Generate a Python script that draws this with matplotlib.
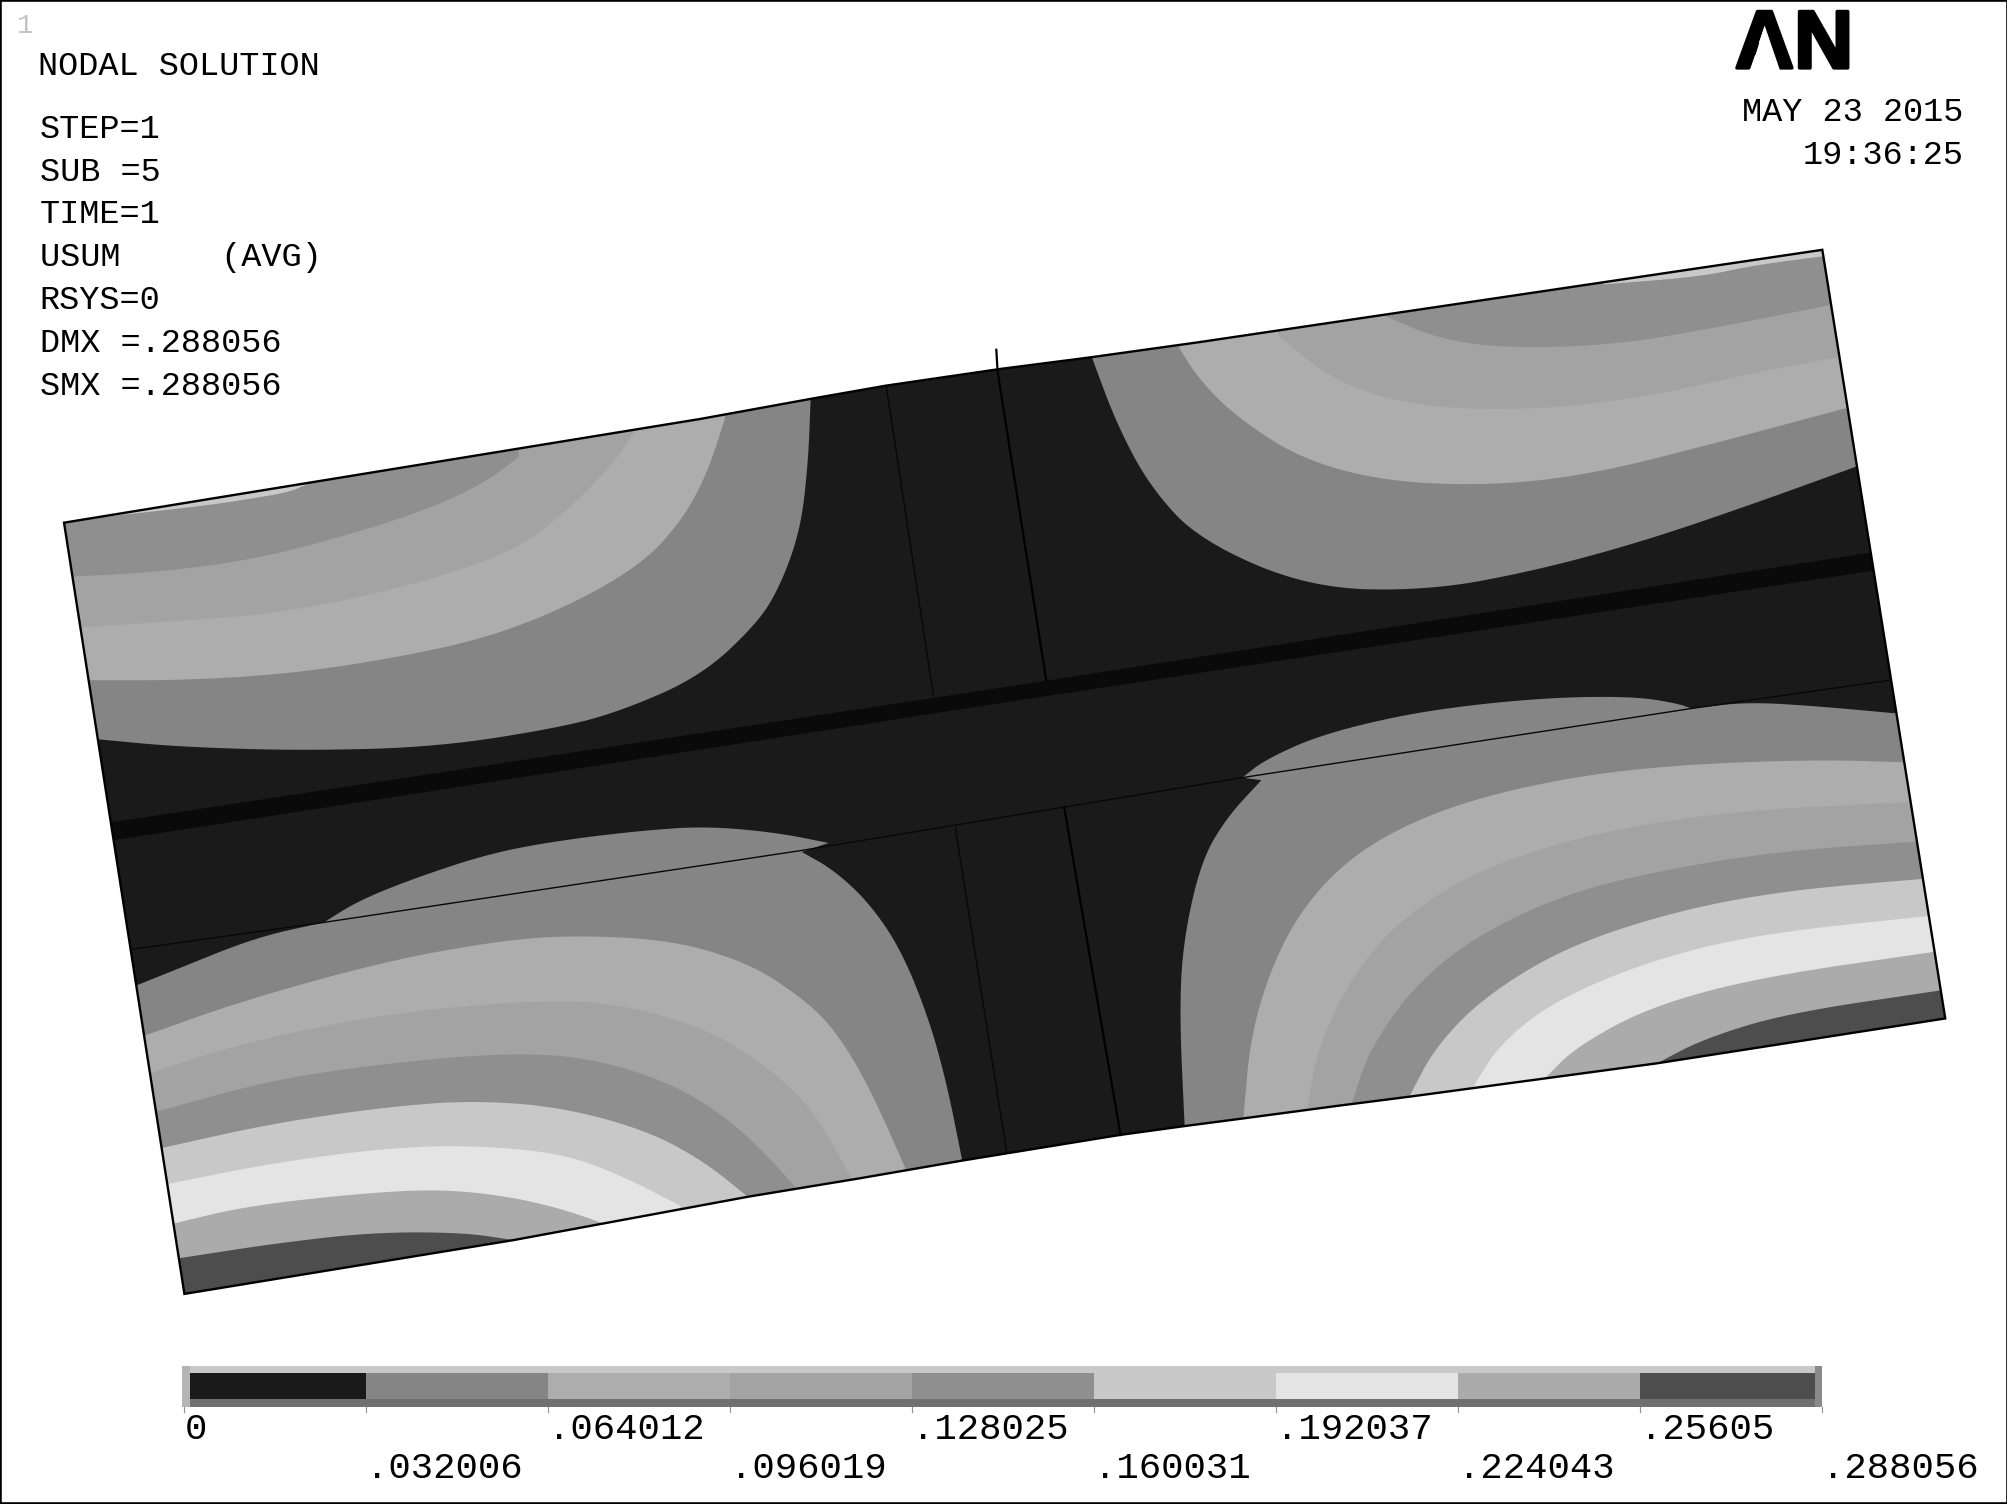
import numpy as np
import matplotlib
matplotlib.use("Agg")
import matplotlib.pyplot as plt
import matplotlib.patheffects as pe
from matplotlib.patches import Polygon, Rectangle

# contour levels and legend
levels = [0, .032006, .064012, .096019, .128025, .160031, .192037, .224043, .25605, .288056]
level_labels = ["0", ".032006", ".064012", ".096019", ".128025", ".160031", ".192037", ".224043", ".25605", ".288056"]
band_colors = ["#1a1a1a", "#858585", "#adadad", "#a3a3a3", "#8f8f8f", "#c8c8c8", "#e4e4e4", "#ababab", "#4d4d4d"]

info_lines = ["STEP=1", "SUB =5", "TIME=1", "USUM     (AVG)", "RSYS=0", "DMX =.288056", "SMX =.288056"]

# model outline and element lines, in reference picture coordinates
domain = [(50, 408), (547, 327), (635, 311), (692, 301), (781, 288), (851, 279), (937, 267), (1423, 195),
          (1519, 795), (1294, 830), (1101, 856), (1046, 863), (971, 873), (925, 879), (874, 886), (751, 906),
          (670, 920), (585, 934), (401, 968), (144, 1010)]
thin_lines = [
    [(692, 301), (729, 544)],
    [(746, 646), (786, 899)],
    [(103, 741), (253, 720), (625, 664), (831, 630), (970, 607), (1321, 553), (1476, 531)],
]
thick_lines = [
    [(778, 273), (779, 290), (817, 531)],
    [(831, 630), (875, 886)],
]
seam = [(86, 642), (800, 534), (1463, 431), (1466, 445), (800, 546), (88, 656)]

# contour edges, lowest band first: band index -> list of curve pieces
upper_left = {
    1: [[(76, 577), (139, 583), (238, 586), (342, 583), (437, 568), (485, 555), (547, 528), (591, 487), (609, 458), (625, 414), (631, 362), (633, 312)]],
    2: [[(71, 531), (147, 531), (238, 525), (338, 508), (398, 492), (458, 466), (505, 437), (533, 405), (549, 376), (558, 352), (566, 327)]],
    3: [[(61, 490), (119, 486), (219, 479), (318, 458), (398, 432), (437, 404), (469, 372), (481, 359), (500, 330)]],
    4: [[(57, 450), (119, 447), (198, 437), (278, 416), (338, 396), (378, 377), (405, 357)]],
    5: [[(67, 405), (158, 395), (198, 389), (226, 384), (240, 378)]],
}
upper_right = {
    1: [[(853, 280), (872, 331), (898, 380), (937, 422), (1023, 459), (1116, 461), (1201, 445), (1285, 422), (1370, 393), (1450, 364)]],
    2: [[(921, 272), (937, 297), (965, 325), (1015, 358), (1082, 376), (1167, 379), (1243, 370), (1328, 349), (1440, 319)]],
    3: [[(998, 262), (1044, 299), (1108, 318), (1201, 320), (1285, 310), (1370, 291), (1434, 279)]],
    4: [[(1078, 245), (1124, 265), (1180, 272), (1264, 269), (1349, 254), (1430, 238)]],
    5: [[(1252, 222), (1328, 216), (1370, 207), (1424, 200)]],
}
lower_left = {
    1: [[(107, 769), (137, 757), (199, 732), (253, 720)],
        [(253, 720), (280, 703), (325, 685), (383, 666), (437, 656), (504, 648), (553, 645), (607, 650), (647, 658)],
        [(626, 665), (651, 679), (679, 705), (704, 742), (726, 797), (740, 849), (751, 904)]],
    2: [[(114, 808), (190, 781), (302, 750), (392, 734), (450, 730), (526, 734), (585, 752), (622, 776), (645, 796), (665, 824), (684, 860), (707, 912)]],
    3: [[(116, 838), (190, 814), (302, 791), (415, 781), (482, 783), (549, 802), (593, 828), (634, 864), (665, 920)]],
    4: [[(125, 867), (212, 843), (302, 830), (392, 822), (459, 825), (526, 846), (571, 875), (603, 906), (622, 928)]],
    5: [[(127, 896), (212, 877), (302, 864), (369, 859), (437, 864), (504, 882), (549, 906), (585, 935)]],
    6: [[(132, 924), (212, 908), (302, 896), (369, 894), (437, 900), (482, 916), (531, 941)]],
    7: [[(136, 955), (190, 942), (266, 933), (338, 928), (392, 933), (437, 943), (477, 957)]],
    8: [[(141, 982), (212, 971), (289, 962), (361, 962), (401, 968)]],
}
lower_right = {
    1: [[(925, 878), (921, 791), (924, 734), (938, 672), (958, 638), (985, 609)],
        [(970, 607), (988, 593), (1030, 574), (1095, 558), (1159, 549), (1223, 544), (1279, 544), (1309, 549), (1321, 553)],
        [(1321, 553), (1364, 548), (1416, 551), (1482, 557)]],
    2: [[(971, 872), (977, 804), (999, 739), (1030, 692), (1073, 656), (1138, 627), (1223, 607), (1309, 597), (1416, 593), (1488, 595)]],
    3: [[(1021, 864), (1030, 814), (1060, 755), (1099, 713), (1159, 677), (1245, 650), (1352, 633), (1493, 626)]],
    4: [[(1056, 860), (1069, 820), (1103, 771), (1150, 732), (1223, 697), (1309, 677), (1395, 664), (1497, 657)]],
    5: [[(1101, 855), (1121, 817), (1159, 778), (1223, 739), (1309, 711), (1395, 695), (1502, 686)]],
    6: [[(1150, 849), (1171, 815), (1214, 781), (1288, 750), (1373, 729), (1506, 715)]],
    7: [[(1206, 842), (1231, 817), (1288, 786), (1373, 763), (1510, 743)]],
    8: [[(1294, 830), (1330, 811), (1395, 791), (1516, 773)]],
}


def smooth(points, rounds=3):
    # corner cutting so the short point lists don't look faceted
    pts = np.array(points, dtype=float)
    for _ in range(rounds):
        q = 0.75 * pts[:-1] + 0.25 * pts[1:]
        r = 0.25 * pts[:-1] + 0.75 * pts[1:]
        cut = np.empty((2 * len(q), 2))
        cut[0::2] = q
        cut[1::2] = r
        pts = np.vstack([pts[0], cut, pts[-1]])
    return pts


def draw_quadrant(ax, clip, bands, x_out, y_out):
    for band, pieces in bands.items():
        curve = np.vstack([smooth(p) for p in pieces])
        first, last = curve[0], curve[-1]
        if x_out < 100:
            closing = [(last[0], y_out), (x_out, y_out), (x_out, first[1])]
        else:
            closing = [(x_out, last[1]), (x_out, y_out), (first[0], y_out)]
        poly = Polygon(np.vstack([curve, closing]), closed=True, fc=band_colors[band], ec="none", zorder=2 + band * 0.1)
        ax.add_patch(poly)
        poly.set_clip_path(clip)


fig = plt.figure(figsize=(20.08, 15.04), dpi=100)
ax = fig.add_axes([0, 0, 1, 1])
ax.set_xlim(0, 1568)
ax.set_ylim(1174, 0)
ax.set_xticks([])
ax.set_yticks([])
for s in ax.spines.values():
    s.set_linewidth(2.6)

model = Polygon(domain, closed=True, fc=band_colors[0], ec="none", zorder=1)
ax.add_patch(model)
stripe = Polygon(seam, closed=True, fc="#0a0a0a", ec="none", zorder=1.5)
ax.add_patch(stripe)
stripe.set_clip_path(model)

draw_quadrant(ax, model, upper_left, 0, 100)
draw_quadrant(ax, model, upper_right, 1600, 100)
draw_quadrant(ax, model, lower_left, 0, 1100)
draw_quadrant(ax, model, lower_right, 1600, 1100)

for seg in thin_lines:
    xs, ys = zip(*seg)
    ax.plot(xs, ys, color="#080808", lw=1.0, zorder=4)
for seg in thick_lines:
    xs, ys = zip(*seg)
    ax.plot(xs, ys, color="black", lw=1.6, zorder=4)
ax.add_patch(Polygon(domain, closed=True, fc="none", ec="black", lw=1.7, zorder=5))

# legend bar, positions come from the contour levels
bar_x = np.interp(levels, [levels[0], levels[-1]], [144, 1423])
ax.add_patch(Rectangle((142, 1066), 1281, 6, fc="#c8c8c8", ec="none"))
ax.add_patch(Rectangle((142, 1091), 1281, 7, fc="#707070", ec="none"))
ax.add_patch(Rectangle((142, 1066), 6, 32, fc="#b5b5b5", ec="none"))
ax.add_patch(Rectangle((1417, 1066), 6, 32, fc="#8a8a8a", ec="none"))
for i in range(len(levels) - 1):
    left = max(bar_x[i], 148)
    right = min(bar_x[i + 1], 1417)
    ax.add_patch(Rectangle((left, 1072), right - left, 20, fc=band_colors[i], ec="none"))
for i, x in enumerate(bar_x):
    ax.plot([x, x], [1098, 1102], color="#909090", lw=0.8)
    y = 1116 if i % 2 == 0 else 1146
    ax.text(x, y, level_labels[i], family="Liberation Mono", fontsize=26.8, ha="left", va="center", color="black")

mono = dict(family="Liberation Mono", fontsize=24.2, color="black", va="center")
ax.text(30, 52, "NODAL SOLUTION", ha="left", **mono)
for i, line in enumerate(info_lines):
    ax.text(31, 101 + i * 33.4, line, ha="left", **mono)
ax.text(1533, 88, "MAY 23 2015", ha="right", **mono)
ax.text(1533, 121, "19:36:25", ha="right", **mono)
ax.text(20, 20, "1", family="Liberation Mono", fontsize=20, color="#c4c4c4", ha="center", va="center")

logo = ax.text(1401, 53, "AN", family="Liberation Sans", fontweight="bold", fontsize=59, ha="center", va="baseline", color="black", zorder=6)
logo.set_path_effects([pe.withStroke(linewidth=2.5, foreground="black")])
ax.add_patch(Polygon([(1378, 20), (1390, 55), (1367, 55)], closed=True, fc="white", ec="none", zorder=7))

fig.savefig("out.png", dpi=100)
